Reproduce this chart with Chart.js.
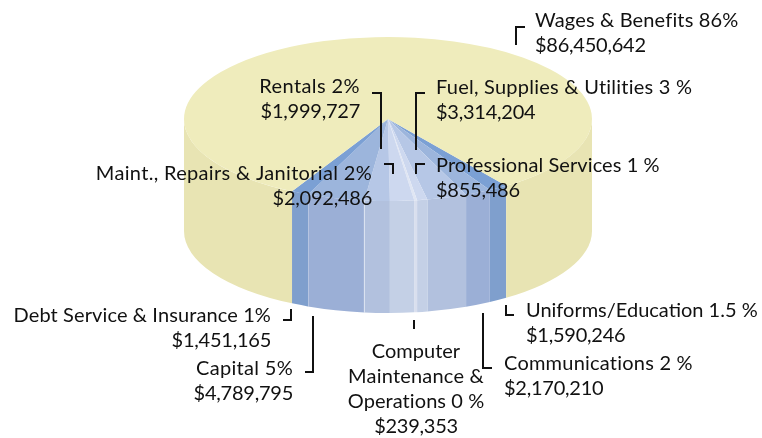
<!DOCTYPE html>
<html><head><meta charset="utf-8">
<style>html,body{margin:0;padding:0;background:#fff}canvas{display:block}</style>
<script src="https://cdn.jsdelivr.net/npm/chart.js@4"></script>
</head><body>
<canvas id="c" width="762" height="438"></canvas>
<script>
const categories = ["Uniforms/Education","Communications","Fuel, Supplies & Utilities","Professional Services","Computer Maintenance & Operations","Rentals","Maint., Repairs & Janitorial","Capital","Debt Service & Insurance","Wages & Benefits"];
const amounts = [1590246,2170210,3314204,855486,239353,1999727,2092486,4789795,1451165,86450642];
const topColors = ["#7ba0d4","#9cb5dc","#b6c7e6","#cdd8ef","#e0e6f3","#cdd8ef","#b6c7e6","#9cb5dc","#7ba0d4","#efecbc"];
const wallColors = ["#7f9fcd","#9bafd6","#b2c1de","#c4d0e6","#d9dfee","#c4d0e6","#b2c1de","#9bafd6","#7f9fcd","#e8e4b3"];

const money = v => "$" + v.toLocaleString("en-US");
const G = {cx:388, cy:119, rx:204, ry:82, depth:112};

const idx = name => categories.findIndex(c => c.startsWith(name));
// label layout: category index, caption lines, align, x, first baseline, tracking per caption line
const placed = [
  [idx("Wages"), ["Wages & Benefits 86%"], "left", 535, 27, [0.15]],
  [idx("Fuel"), ["Fuel, Supplies & Utilities 3 %"], "left", 436, 94, [0.24]],
  [idx("Professional"), ["Professional Services 1 %"], "left", 436, 172, [0.08]],
  [idx("Rentals"), ["Rentals 2%"], "right", 360, 93, [0.4]],
  [idx("Maint"), ["Maint., Repairs & Janitorial 2%"], "right", 372, 180, [0.32]],
  [idx("Debt"), ["Debt Service & Insurance 1%"], "right", 271, 322, [0.11]],
  [idx("Capital"), ["Capital 5%"], "right", 293, 375, [0.3]],
  [idx("Computer"), ["Computer","Maintenance &","Operations 0 %"], "center", 416, 358, [0,0.2,0.07]],
  [idx("Uniforms"), ["Uniforms/Education 1.5 %"], "left", 526, 317, [0]],
  [idx("Communications"), ["Communications 2 %"], "left", 504, 370, [0.22]]
];
// leader brackets: polyline points
const leaders = [
  [[525,27],[516,27],[516,45]],
  [[425,93],[416,93],[416,150]],
  [[425,164],[416,164],[416,174]],
  [[372,93],[381,93],[381,149]],
  [[384,164],[393,164],[393,174]],
  [[291,309],[291,320],[283,320]],
  [[313,316],[313,372],[305,372]],
  [[414,320],[414,329]],
  [[483,313],[483,368],[492,368]],
  [[506,305],[506,315],[514,315]]
];

const pieSolid = {
  id:"pieSolid",
  beforeDatasetsDraw(chart){
    const ctx = chart.ctx, arcs = chart.getDatasetMeta(0).data;
    ctx.save();
    arcs.forEach((a,i)=>{
      // visible front part of the wall: canvas angles between 0 and PI
      const s = a.startAngle, e = a.endAngle;
      [[s,e],[s-2*Math.PI,e-2*Math.PI],[s+2*Math.PI,e+2*Math.PI]].forEach(([r0,r1])=>{
        const lo = Math.max(r0,0), hi = Math.min(r1,Math.PI);
        if (hi<=lo) return;
        ctx.beginPath();
        ctx.ellipse(G.cx,G.cy,G.rx,G.ry,0,lo,hi,false);
        ctx.ellipse(G.cx,G.cy+G.depth,G.rx,G.ry,0,hi,lo,true);
        ctx.closePath();
        ctx.fillStyle = wallColors[i];
        ctx.fill();
        if (categories[i] === "Capital") {
          ctx.strokeStyle = "rgba(255,255,255,0.55)";
          ctx.lineWidth = 1;
          [lo,hi].forEach(t=>{
            const x = G.cx+G.rx*Math.cos(t), y = G.cy+G.ry*Math.sin(t);
            ctx.beginPath(); ctx.moveTo(x,y); ctx.lineTo(x,y+G.depth); ctx.stroke();
          });
        }
      });
    });
    ctx.restore();
  },
  beforeDatasetDraw(chart){
    const a = chart.getDatasetMeta(0).data[0], ctx = chart.ctx, R = a.outerRadius;
    ctx.save();
    ctx.translate(G.cx,G.cy);
    ctx.scale(G.rx/R,G.ry/R);
    ctx.translate(-a.x,-a.y);
  },
  afterDatasetDraw(chart){ chart.ctx.restore(); },
  afterDatasetsDraw(chart){
    const ctx = chart.ctx;
    ctx.save();
    ctx.strokeStyle="#111"; ctx.lineWidth=2; ctx.lineJoin="miter";
    leaders.forEach(p=>{
      ctx.beginPath();
      p.forEach(([x,y],k)=> k?ctx.lineTo(x,y):ctx.moveTo(x,y));
      ctx.stroke();
    });
    ctx.fillStyle="#111";
    ctx.font='20px "Lato"';
    ctx.textBaseline="alphabetic";
    placed.forEach(([i,lines,al,x,y,track])=>{
      ctx.textAlign=al;
      lines.forEach((t,k)=>{
        ctx.letterSpacing = track[k]+"px";
        ctx.fillText(t,x,y+k*25);
      });
      ctx.letterSpacing = "-0.25px";
      ctx.fillText(money(amounts[i]),x,y+lines.length*25);
    });
    ctx.restore();
  }
};

new Chart(document.getElementById("c"),{
  type:"pie",
  data:{labels:categories,datasets:[{data:amounts,backgroundColor:topColors,borderWidth:0}]},
  options:{
    responsive:false,animation:false,rotation:144.6,
    plugins:{legend:{display:false},tooltip:{enabled:false},title:{display:false}}
  },
  plugins:[pieSolid]
});
</script>
</body></html>
